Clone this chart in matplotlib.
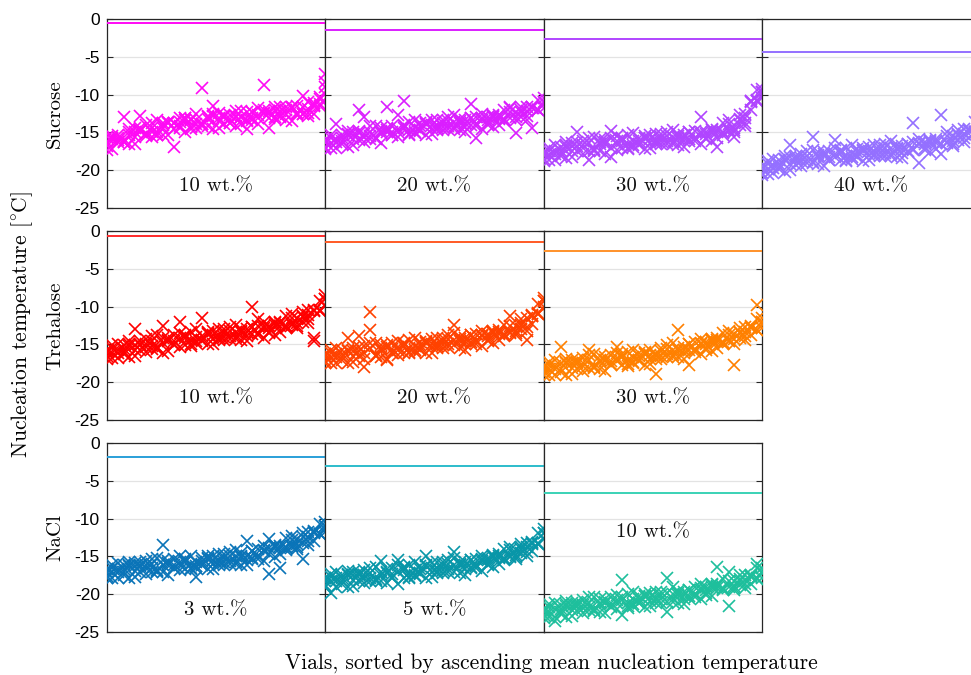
import numpy as np
import matplotlib
matplotlib.use("Agg")
import matplotlib.pyplot as plt

# ---- data: nucleation temperatures [degC], four freeze cycles per vial,
#      vials sorted by ascending mean nucleation temperature ----
S10_a = [-17.3, -15.5, -16.3, -13.0, -16.6, -15.0, -12.8, -14.0, -15.0, -13.4,
         -15.4, -13.7, -16.9, -13.1, -15.0, -13.3, -13.9, -9.1, -14.2, -11.5,
         -14.4, -13.0, -13.7, -12.2, -13.9, -12.3, -13.3, -11.8, -8.7, -12.4,
         -13.2, -11.7, -13.4, -11.8, -12.4, -10.2, -12.8, -11.1, -11.5, -7.3]
S10_b = [-15.6, -17.2, -15.4, -16.3, -14.6, -16.5, -14.7, -15.2, -13.8, -15.4,
         -13.8, -15.3, -13.7, -14.4, -13.1, -14.6, -12.5, -13.9, -13.2, -14.6,
         -12.4, -13.9, -12.7, -14.1, -12.2, -14.6, -12.3, -13.9, -12.4, -14.4,
         -11.6, -13.0, -12.1, -13.5, -11.5, -12.6, -11.0, -12.6, -10.3, -9.0]
S10_c = [-16.3, -15.9, -16.0, -16.1, -15.3, -14.4, -14.8, -15.5, -15.6, -15.0,
         -14.0, -13.6, -13.7, -14.2, -13.3, -13.2, -14.4, -14.2, -12.8, -12.8,
         -13.1, -12.7, -13.2, -13.0, -12.9, -13.4, -13.1, -12.7, -12.0, -12.2,
         -13.0, -12.8, -11.7, -11.6, -12.7, -12.5, -11.9, -11.4, -10.6, -9.9]
S10_d = [-16.8, -15.7, -15.7, -16.3, -14.9, -15.6, -14.4, -15.1, -14.4, -15.3,
         -14.4, -13.6, -14.5, -13.6, -13.1, -14.3, -13.4, -13.9, -12.9, -12.6,
         -13.5, -12.8, -13.8, -12.8, -12.9, -13.5, -12.3, -13.1, -12.4, -13.1,
         -12.1, -12.2, -12.6, -11.7, -12.5, -11.6, -12.4, -11.5, -11.2, -8.3]

S20_a = [-16.0, -17.1, -13.9, -16.2, -16.9, -14.9, -12.1, -16.3, -14.2, -15.7,
         -14.8, -11.6, -14.1, -14.9, -10.9, -13.6, -14.9, -13.8, -15.3, -14.0,
         -13.3, -14.7, -14.2, -12.7, -14.7, -13.4, -11.2, -12.9, -14.6, -13.3,
         -12.7, -14.0, -12.0, -11.6, -13.3, -11.6, -13.3, -11.7, -12.1, -10.5]
S20_b = [-17.2, -15.4, -16.3, -15.3, -14.8, -16.7, -15.1, -12.9, -15.9, -14.1,
         -16.4, -14.7, -15.3, -12.7, -14.2, -15.4, -13.3, -14.7, -13.6, -15.2,
         -14.7, -13.3, -13.0, -14.6, -13.5, -15.0, -13.1, -15.8, -12.6, -14.0,
         -14.3, -12.7, -13.3, -11.8, -15.1, -12.3, -11.6, -14.4, -10.7, -11.8]
S20_c = [-16.3, -16.4, -17.0, -15.8, -15.4, -15.3, -16.0, -15.2, -15.5, -15.8,
         -14.4, -14.9, -14.9, -15.6, -14.4, -14.7, -15.1, -14.2, -13.9, -14.5,
         -14.1, -14.3, -13.5, -14.3, -13.2, -13.8, -14.0, -14.2, -13.3, -13.0,
         -13.0, -13.2, -13.5, -13.1, -12.3, -12.9, -12.2, -11.6, -12.0, -11.0]
S20_d = [-16.9, -15.8, -15.9, -16.5, -15.2, -15.9, -14.8, -15.6, -14.9, -15.9,
         -15.1, -14.4, -15.4, -14.5, -14.0, -15.2, -14.3, -14.8, -13.8, -13.4,
         -14.4, -13.7, -14.6, -13.6, -13.7, -14.3, -13.1, -13.9, -13.1, -13.8,
         -12.8, -12.9, -13.2, -12.3, -13.0, -12.1, -12.8, -11.8, -12.1, -11.0]

S30_a = [-18.8, -17.0, -17.9, -16.9, -16.3, -18.2, -14.9, -16.1, -17.4, -15.6,
         -17.5, -16.3, -14.8, -15.5, -15.9, -17.2, -15.1, -16.6, -15.5, -17.1,
         -16.6, -15.2, -15.0, -16.6, -15.5, -16.9, -15.0, -15.7, -12.9, -15.9,
         -16.2, -16.9, -15.1, -13.4, -15.0, -13.4, -12.5, -12.0, -9.4, -10.5]
S30_b = [-17.9, -18.0, -18.6, -17.4, -16.9, -16.8, -17.5, -16.7, -18.7, -17.3,
         -15.9, -16.5, -18.2, -17.3, -16.1, -16.5, -16.9, -16.1, -15.8, -16.4,
         -16.0, -16.2, -15.5, -16.3, -15.2, -15.7, -15.9, -16.1, -15.2, -14.9,
         -14.9, -15.0, -15.3, -14.7, -15.6, -14.0, -13.1, -10.8, -10.7, -9.7]
S30_c = [-17.6, -18.7, -16.7, -17.8, -18.4, -16.4, -16.8, -17.8, -15.7, -17.2,
         -16.3, -17.8, -15.7, -16.6, -17.1, -15.4, -16.7, -15.7, -17.2, -15.9,
         -15.2, -16.6, -16.2, -14.7, -16.7, -15.3, -16.1, -14.8, -16.5, -15.2,
         -14.6, -15.8, -13.8, -14.8, -14.7, -12.7, -14.2, -10.9, -10.8, -9.2]
S30_d = [-18.5, -17.4, -17.5, -18.1, -16.7, -17.4, -16.3, -17.1, -16.4, -17.4,
         -16.6, -16.0, -17.0, -16.2, -15.7, -17.0, -16.1, -16.7, -15.7, -15.3,
         -16.3, -15.6, -16.6, -15.6, -15.7, -16.2, -15.0, -15.8, -15.0, -15.7,
         -14.7, -14.7, -15.0, -13.9, -14.4, -13.2, -13.7, -11.0, -10.8, -9.7]

S40_a = [-19.8, -19.8, -20.4, -19.2, -18.7, -16.7, -19.3, -18.4, -18.7, -15.6,
         -17.6, -18.1, -18.2, -16.0, -17.7, -18.1, -18.5, -17.6, -17.4, -18.0,
         -17.5, -17.7, -17.0, -17.8, -16.7, -17.2, -17.4, -13.8, -16.6, -16.3,
         -16.3, -16.4, -12.7, -16.3, -15.5, -16.0, -15.2, -14.6, -14.9, -13.9]
S40_b = [-19.5, -20.5, -18.5, -19.6, -20.2, -18.2, -18.6, -19.5, -17.4, -18.9,
         -18.0, -19.4, -17.4, -18.2, -18.7, -17.0, -18.3, -17.2, -18.8, -17.5,
         -16.7, -18.1, -17.7, -16.2, -18.2, -16.8, -17.6, -16.3, -19.0, -16.6,
         -16.0, -17.2, -17.9, -16.4, -16.5, -14.7, -16.3, -14.7, -15.0, -13.4]
S40_c = [-20.7, -18.8, -19.7, -18.7, -18.1, -20.0, -18.4, -17.8, -19.1, -17.3,
         -19.2, -17.9, -18.6, -17.1, -17.5, -18.8, -16.7, -18.1, -17.1, -18.7,
         -18.1, -16.7, -16.5, -18.1, -17.0, -18.4, -16.5, -17.2, -15.9, -17.3,
         -17.6, -15.9, -16.6, -15.0, -16.8, -15.4, -14.6, -15.8, -13.6, -14.7]
S40_d = [-20.4, -19.2, -19.3, -19.9, -18.5, -19.2, -18.1, -18.8, -18.1, -19.1,
         -18.3, -17.6, -18.7, -17.8, -17.3, -18.6, -17.7, -18.2, -17.3, -16.9,
         -17.8, -17.1, -18.1, -17.1, -17.2, -17.7, -16.5, -17.3, -16.4, -17.1,
         -16.1, -16.1, -16.5, -15.5, -16.2, -15.2, -15.8, -14.8, -15.0, -13.9]

T10_a = [-15.7, -16.8, -14.9, -16.0, -16.7, -12.9, -15.1, -16.0, -13.9, -15.4,
         -12.6, -15.9, -13.8, -12.1, -15.1, -13.3, -14.6, -11.5, -15.0, -13.8,
         -13.0, -14.4, -13.9, -12.4, -14.4, -13.0, -10.1, -12.5, -14.1, -12.8,
         -12.1, -13.3, -11.3, -12.4, -12.5, -10.7, -12.2, -14.2, -10.6, -8.5]
T10_b = [-16.9, -15.1, -16.1, -15.1, -14.6, -16.5, -14.9, -14.3, -15.6, -13.8,
         -16.2, -14.4, -15.0, -13.5, -13.9, -15.2, -13.0, -14.4, -13.3, -15.0,
         -14.4, -13.0, -12.7, -14.3, -13.2, -14.6, -12.7, -11.7, -12.1, -13.5,
         -13.7, -12.0, -12.6, -11.0, -12.8, -11.4, -10.5, -14.5, -9.2, -9.8]
T10_c = [-16.0, -16.1, -16.8, -15.6, -15.2, -15.1, -15.8, -14.9, -15.2, -15.5,
         -14.1, -14.6, -14.6, -15.3, -14.1, -14.4, -14.8, -13.9, -13.6, -14.3,
         -13.8, -14.0, -13.2, -14.0, -12.9, -13.4, -13.6, -13.8, -12.8, -12.5,
         -12.4, -12.5, -12.8, -12.3, -11.5, -12.0, -11.1, -10.4, -10.5, -9.0]
T10_d = [-16.6, -15.5, -15.7, -16.3, -15.0, -15.7, -14.6, -15.3, -14.6, -15.6,
         -14.8, -14.1, -15.1, -14.2, -13.7, -14.9, -14.0, -14.5, -13.5, -13.2,
         -14.1, -13.4, -14.3, -13.3, -13.4, -13.9, -12.7, -13.5, -12.6, -13.3,
         -12.2, -12.2, -12.5, -11.5, -12.2, -11.2, -11.7, -10.6, -10.6, -9.0]

T20_a = [-17.5, -15.7, -16.7, -15.8, -14.2, -17.3, -13.9, -15.2, -10.7, -14.8,
         -16.7, -15.4, -16.0, -14.6, -15.0, -16.2, -14.2, -15.6, -14.5, -16.1,
         -15.5, -14.1, -13.8, -12.4, -14.3, -15.7, -13.8, -14.5, -13.2, -14.6,
         -14.8, -13.1, -13.7, -11.3, -13.8, -12.4, -11.5, -12.3, -9.6, -10.1]
T20_b = [-16.6, -16.7, -17.4, -16.3, -15.9, -15.9, -16.6, -18.0, -13.1, -16.5,
         -15.1, -17.0, -15.6, -16.4, -15.2, -15.5, -16.0, -15.1, -14.8, -15.4,
         -14.9, -15.1, -14.3, -15.1, -14.0, -14.5, -14.7, -14.9, -13.9, -13.6,
         -13.5, -13.6, -13.9, -13.4, -12.5, -13.0, -14.4, -11.1, -10.9, -9.3]
T20_c = [-16.3, -17.4, -15.5, -16.7, -17.4, -15.5, -15.9, -16.9, -14.8, -16.4,
         -15.5, -16.9, -14.8, -15.7, -16.2, -14.4, -15.8, -14.7, -16.2, -14.9,
         -14.1, -15.5, -15.0, -13.5, -15.5, -14.1, -14.9, -13.6, -15.2, -13.9,
         -13.2, -14.4, -12.4, -13.5, -13.5, -11.7, -13.2, -11.2, -11.0, -8.8]
T20_d = [-17.2, -16.1, -16.3, -17.0, -15.7, -16.5, -15.4, -16.2, -15.5, -16.6,
         -15.8, -15.1, -16.1, -15.3, -14.8, -16.0, -15.2, -15.7, -14.7, -14.3,
         -15.2, -14.5, -15.4, -14.4, -14.5, -15.0, -13.8, -14.6, -13.7, -14.4,
         -13.3, -13.3, -13.6, -12.6, -13.2, -12.2, -12.7, -11.3, -11.0, -9.3]

T30_a = [-18.1, -18.3, -19.0, -15.3, -17.5, -17.5, -18.2, -17.4, -15.7, -18.0,
         -16.6, -17.2, -17.2, -15.3, -16.7, -17.1, -17.5, -16.6, -16.3, -16.9,
         -16.3, -16.5, -15.6, -16.4, -13.1, -15.7, -15.8, -16.0, -15.0, -14.7,
         -14.6, -14.7, -15.0, -14.5, -13.6, -14.1, -13.3, -12.6, -9.8, -12.0]
T30_b = [-17.8, -19.0, -17.1, -18.3, -19.0, -17.1, -17.5, -18.5, -16.4, -17.9,
         -17.0, -18.5, -16.4, -17.2, -17.7, -16.0, -17.3, -16.2, -17.7, -16.4,
         -18.9, -16.9, -16.3, -14.8, -16.7, -15.3, -17.7, -14.7, -16.3, -15.0,
         -14.3, -15.5, -13.5, -14.6, -17.7, -12.8, -14.4, -12.7, -13.1, -11.5]
T30_c = [-19.0, -17.3, -18.3, -17.4, -16.9, -18.9, -17.3, -16.8, -18.1, -16.3,
         -18.2, -17.0, -17.6, -16.1, -16.5, -17.8, -15.7, -17.1, -16.0, -17.6,
         -16.9, -15.5, -15.1, -16.7, -15.5, -16.9, -14.9, -15.6, -14.3, -15.7,
         -15.9, -14.2, -14.8, -13.2, -14.9, -13.5, -12.7, -13.8, -11.7, -12.8]
T30_d = [-18.7, -17.7, -17.9, -18.6, -17.3, -18.1, -17.0, -17.8, -17.1, -18.1,
         -17.3, -16.7, -17.7, -16.8, -16.3, -17.6, -16.7, -17.2, -16.2, -15.8,
         -16.6, -15.9, -16.7, -15.7, -15.7, -16.2, -14.9, -15.7, -14.8, -15.5,
         -14.4, -14.4, -14.7, -13.7, -14.3, -13.3, -13.9, -12.8, -13.1, -12.0]

N3_a = [-16.7, -17.8, -15.9, -17.1, -17.8, -15.9, -16.3, -17.3, -15.3, -16.8,
        -13.5, -17.4, -15.3, -16.1, -16.7, -14.9, -16.3, -15.2, -16.7, -15.5,
        -14.7, -16.1, -15.6, -14.1, -16.1, -12.9, -15.4, -14.0, -15.6, -12.7,
        -13.5, -14.7, -12.6, -13.7, -13.7, -11.9, -13.5, -11.8, -12.1, -10.5]
N3_b = [-17.9, -16.1, -17.1, -16.2, -15.7, -17.7, -16.1, -15.6, -17.0, -15.2,
        -17.1, -15.9, -16.5, -15.0, -15.5, -16.7, -17.7, -16.1, -15.0, -16.7,
        -16.1, -14.7, -14.4, -16.0, -14.9, -16.2, -14.3, -14.9, -13.6, -17.3,
        -15.1, -16.5, -13.9, -12.3, -14.0, -15.3, -11.8, -12.9, -10.7, -11.8]
N3_c = [-17.0, -17.1, -17.8, -16.7, -16.3, -16.3, -17.0, -16.2, -16.6, -16.9,
        -15.5, -16.1, -16.1, -16.8, -15.7, -16.0, -16.5, -15.6, -15.3, -16.0,
        -15.5, -15.7, -14.9, -15.7, -14.6, -15.0, -15.2, -15.3, -14.3, -13.9,
        -13.8, -13.9, -14.1, -13.6, -12.7, -13.2, -12.4, -11.7, -12.0, -11.0]
N3_d = [-17.6, -16.5, -16.7, -17.4, -16.1, -16.9, -15.8, -16.6, -16.0, -17.0,
        -16.2, -15.6, -16.6, -15.7, -15.3, -16.5, -15.7, -16.2, -15.2, -14.9,
        -15.8, -15.1, -16.0, -15.0, -15.1, -15.5, -14.3, -15.0, -14.1, -14.7,
        -13.6, -13.6, -13.8, -12.8, -13.4, -12.4, -13.0, -11.9, -12.1, -11.0]

N5_a = [-18.2, -18.3, -19.0, -17.9, -17.5, -17.5, -18.2, -17.4, -17.8, -18.1,
        -15.6, -17.2, -17.3, -15.5, -16.8, -17.2, -17.6, -16.7, -14.9, -17.0,
        -16.6, -16.8, -16.0, -14.4, -15.7, -16.2, -16.4, -16.6, -15.6, -15.2,
        -15.1, -15.2, -15.5, -15.0, -14.1, -14.6, -13.8, -13.1, -13.2, -11.9]
N5_b = [-17.9, -19.9, -17.1, -18.3, -19.0, -17.1, -17.5, -18.5, -16.5, -18.0,
        -17.1, -18.5, -16.5, -18.6, -17.8, -16.1, -17.4, -16.3, -17.8, -16.5,
        -15.8, -17.2, -16.7, -15.2, -17.2, -15.8, -16.6, -15.3, -16.9, -15.5,
        -14.8, -16.0, -14.0, -15.1, -15.1, -13.3, -14.9, -13.2, -13.3, -11.4]
N5_c = [-19.1, -17.3, -18.3, -17.4, -16.9, -18.9, -17.3, -16.8, -18.2, -16.4,
        -18.3, -17.0, -17.7, -16.2, -16.6, -17.9, -15.8, -17.2, -16.1, -17.7,
        -17.2, -15.8, -15.5, -17.1, -16.0, -17.4, -15.5, -16.2, -14.9, -16.2,
        -16.4, -14.7, -15.3, -13.7, -15.4, -14.0, -13.2, -14.3, -11.9, -12.7]
N5_d = [-18.8, -17.7, -17.9, -18.6, -17.3, -18.1, -17.0, -17.8, -17.2, -18.2,
        -17.4, -16.7, -17.8, -16.9, -16.4, -17.7, -16.8, -17.3, -16.3, -15.9,
        -16.9, -16.2, -17.1, -16.1, -16.2, -16.7, -15.5, -16.3, -15.4, -16.0,
        -14.9, -14.9, -15.2, -14.2, -14.8, -13.8, -14.4, -13.3, -13.3, -11.9]

N10_a = [-21.9, -23.0, -21.1, -22.3, -23.0, -21.1, -21.5, -22.5, -20.4, -22.0,
         -21.1, -22.5, -20.4, -21.2, -18.1, -20.0, -21.3, -20.2, -21.7, -20.4,
         -19.7, -21.1, -17.9, -19.1, -21.1, -19.7, -20.5, -19.1, -20.7, -19.4,
         -18.7, -16.4, -18.0, -17.1, -19.2, -17.5, -19.2, -17.6, -16.0, -16.5]
N10_b = [-23.1, -21.3, -23.6, -21.4, -20.9, -22.9, -21.3, -20.8, -22.1, -20.4,
         -22.3, -21.0, -21.6, -20.1, -22.7, -21.8, -19.7, -21.1, -20.0, -21.6,
         -21.1, -19.7, -22.3, -21.0, -19.9, -21.3, -19.4, -20.0, -18.7, -20.1,
         -20.3, -18.7, -19.3, -21.6, -19.5, -18.2, -17.5, -18.7, -16.6, -17.8]
N10_c = [-22.2, -22.3, -23.0, -21.9, -21.5, -21.5, -22.2, -21.4, -21.7, -22.1,
         -20.7, -21.2, -21.2, -21.9, -20.8, -21.1, -21.5, -20.6, -20.3, -20.9,
         -20.5, -20.7, -19.9, -20.7, -19.6, -20.1, -20.3, -20.4, -19.4, -19.1,
         -19.0, -19.2, -19.5, -19.0, -18.2, -18.8, -18.1, -17.5, -17.9, -17.0]
N10_d = [-22.8, -21.7, -21.9, -22.6, -21.3, -22.1, -21.0, -21.8, -21.1, -22.2,
         -21.4, -20.7, -21.7, -20.8, -20.4, -21.6, -20.7, -21.2, -20.2, -19.8,
         -20.8, -20.1, -21.0, -20.0, -20.1, -20.6, -19.4, -20.1, -19.2, -19.9,
         -18.8, -18.9, -19.2, -18.2, -18.9, -18.0, -18.7, -17.7, -18.0, -17.0]

# equilibrium freezing temperature of each solution [degC]
TEQ_SUCROSE = [-0.5, -1.4, -2.6, -4.4]
TEQ_TREHALOSE = [-0.6, -1.5, -2.7]
TEQ_NACL = [-1.8, -3.0, -6.6]

CONC_SUCROSE = ["10 wt.%", "20 wt.%", "30 wt.%", "40 wt.%"]
CONC_TREHALOSE = ["10 wt.%", "20 wt.%", "30 wt.%"]
CONC_NACL = ["3 wt.%", "5 wt.%", "10 wt.%"]
ROW_NAMES = ["Sucrose", "Trehalose", "NaCl"]
YTICKS = [-25, -20, -15, -10, -5, 0]

# (row, col, cycles, T_eq, concentration, marker colour, line colour, label y)
PANELS = [
    (0, 0, (S10_a, S10_b, S10_c, S10_d), TEQ_SUCROSE[0], CONC_SUCROSE[0], "#ff0af5", "#ff0af5", -22.1),
    (0, 1, (S20_a, S20_b, S20_c, S20_d), TEQ_SUCROSE[1], CONC_SUCROSE[1], "#da1eff", "#da1eff", -22.1),
    (0, 2, (S30_a, S30_b, S30_c, S30_d), TEQ_SUCROSE[2], CONC_SUCROSE[2], "#b045ff", "#b045ff", -22.1),
    (0, 3, (S40_a, S40_b, S40_c, S40_d), TEQ_SUCROSE[3], CONC_SUCROSE[3], "#9470ff", "#9470ff", -22.1),
    (1, 0, (T10_a, T10_b, T10_c, T10_d), TEQ_TREHALOSE[0], CONC_TREHALOSE[0], "#ff0000", "#ff2a2a", -22.1),
    (1, 1, (T20_a, T20_b, T20_c, T20_d), TEQ_TREHALOSE[1], CONC_TREHALOSE[1], "#ff4200", "#ff5a25", -22.1),
    (1, 2, (T30_a, T30_b, T30_c, T30_d), TEQ_TREHALOSE[2], CONC_TREHALOSE[2], "#ff8000", "#ff922a", -22.1),
    (2, 0, (N3_a, N3_b, N3_c, N3_d), TEQ_NACL[0], CONC_NACL[0], "#0a74b8", "#2a9fd8", -22.1),
    (2, 1, (N5_a, N5_b, N5_c, N5_d), TEQ_NACL[1], CONC_NACL[1], "#0896a8", "#2cbccb", -22.1),
    (2, 2, (N10_a, N10_b, N10_c, N10_d), TEQ_NACL[2], CONC_NACL[2], "#1ebf9c", "#3ad2b6", -11.8),
]

plt.rcParams["mathtext.fontset"] = "cm"
plt.rcParams["axes.unicode_minus"] = False
SERIF = "cmr10"
SANS = ["Liberation Sans", "DejaVu Sans"]

W, H = 971.0, 675.0
COL_X = [106.7, 325.2, 543.7, 762.2]   # left edge of each column [px]
COL_W = 218.5
ROW_Y = [19.0, 231.0, 443.0]           # top edge of each row [px]
ROW_H = 189.0

fig = plt.figure(figsize=(W / 100, H / 100), dpi=100)

for row, col, cycles, teq, conc, mcol, lcol, ly in PANELS:
    ax = fig.add_axes([COL_X[col] / W, 1 - (ROW_Y[row] + ROW_H) / H,
                       COL_W / W, ROW_H / H])
    n = len(cycles[0])
    vials = np.arange(1, n + 1)
    for cyc in cycles:
        ax.plot(vials, cyc, "x", color=mcol, ms=8, mew=1.2, zorder=3)
    ax.axhline(teq, color=lcol, lw=1.4, zorder=3)
    ax.set_xlim(1, n)
    ax.set_ylim(-25, 0)
    ax.set_xticks([])
    ax.set_yticks(YTICKS)
    ax.yaxis.grid(True, color="#e3e3e3", lw=0.9, zorder=0)
    ax.set_axisbelow(True)
    ax.tick_params(axis="y", direction="in", left=True, right=True,
                   length=4, width=0.8, color="#262626", pad=5,
                   labelleft=(col == 0), labelsize=12.5)
    for lab in ax.get_yticklabels():
        lab.set_family(SANS)
    for sp in ax.spines.values():
        sp.set_color("#262626")
        sp.set_linewidth(0.9)
    ax.text(0.5, ly, conc, transform=ax.get_yaxis_transform(), ha="center",
            va="center", fontsize=15, family=SERIF, color="#111111")

for row, name in enumerate(ROW_NAMES):
    yc = 1 - (ROW_Y[row] + ROW_H / 2) / H
    fig.text(55 / W, yc, name, rotation=90, ha="center", va="center",
             fontsize=15, family=SERIF)

fig.text(22 / W, 1 - 325 / H, r"Nucleation temperature [$^{\circ}$C]", rotation=90,
         ha="center", va="center", fontsize=15.5, family=SERIF)
fig.text(551 / W, 1 - 663 / H, "Vials, sorted by ascending mean nucleation temperature",
         ha="center", va="center", fontsize=15.5, family=SERIF)

fig.savefig("out.png", dpi=100)
